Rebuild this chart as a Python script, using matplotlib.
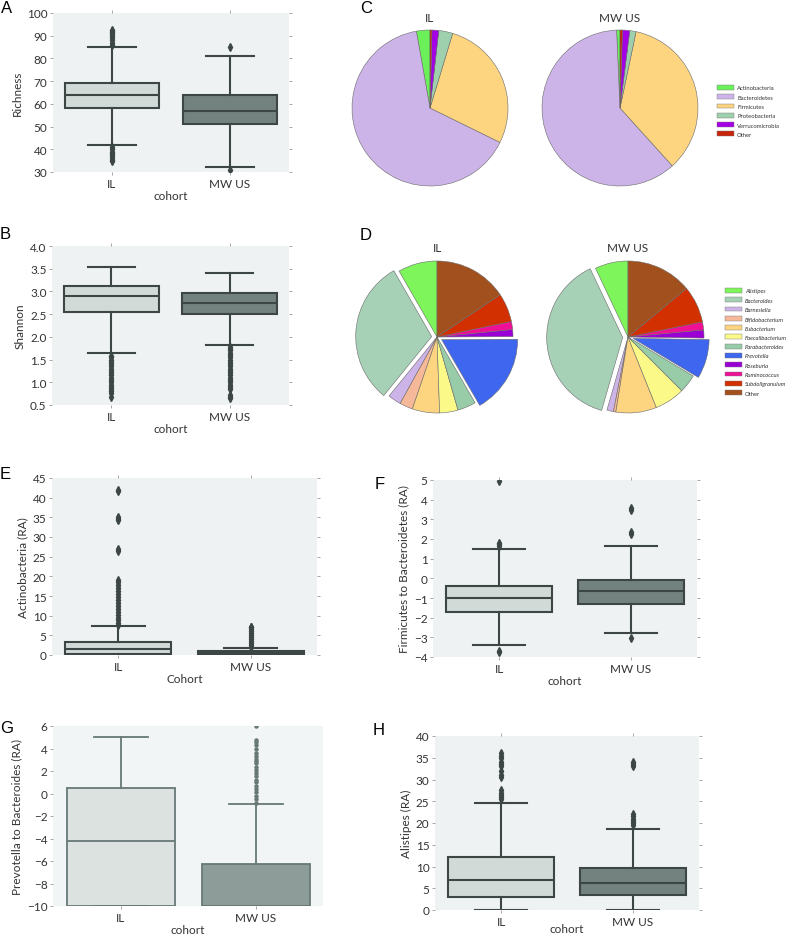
import matplotlib
matplotlib.use("Agg")
import matplotlib.pyplot as plt
from matplotlib.patches import Patch

plt.rcParams['font.family'] = ['Lato', 'DejaVu Sans']

W, H = 791, 937

cohorts = ['IL', 'MW US']

# box summaries: whislo, q1, median, q3, whishi
richness_il = [42, 58, 64, 69, 85]
richness_mw = [32, 51, 57, 64, 81]
richness_il_out = [86, 87, 88, 89, 90, 90.5, 91, 91.5, 92, 92.5, 41, 40, 39, 38.5, 38, 37, 36, 35.5, 35]
richness_mw_out = [85, 31]

shannon_il = [1.64, 2.54, 2.91, 3.13, 3.54]
shannon_mw = [1.82, 2.50, 2.75, 2.97, 3.41]
shannon_il_out = [1.58, 1.55, 1.5, 1.45, 1.4, 1.35, 1.3, 1.25, 1.2, 1.15, 1.1, 1.05, 1.0, 0.95,
                  0.9, 0.86, 0.8, 0.77, 0.67]
shannon_mw_out = [1.78, 1.74, 1.7, 1.65, 1.6, 1.55, 1.5, 1.45, 1.4, 1.35, 1.3, 1.25, 1.2, 1.15,
                  1.1, 1.05, 1.0, 0.95, 0.9, 0.86, 0.72, 0.68, 0.65]

actino_il = [0.0, 0.35, 1.5, 3.3, 7.5]
actino_mw = [0.0, 0.1, 0.4, 0.9, 1.9]
actino_il_out = [7.7, 8.2, 8.8, 9.5, 10.2, 11, 11.8, 12.5, 13.2, 14, 14.8, 15.5, 16.2, 17, 17.8,
                 18.5, 19, 26.5, 27, 34.2, 34.7, 35, 41.7, 42]
actino_mw_out = [2.0, 2.5, 3.0, 3.5, 4.0, 4.5, 5.0, 5.5, 6.0, 6.5, 7.0, 7.2]

fb_il = [-3.4, -1.7, -1.0, -0.38, 1.5]
fb_mw = [-2.8, -1.28, -0.65, -0.08, 1.62]
fb_il_out = [1.65, 1.75, 1.8, 4.95, -3.7, -3.75]
fb_mw_out = [2.25, 2.35, 3.5, 3.6, -3.05]

pb_il = [-10, -10, -4.2, 0.5, 5.0]
pb_mw = [-10, -10, -10, -6.3, -0.9]
pb_il_out = []
pb_mw_out = [-0.8, -0.5, -0.2, 0.1, 0.4, 0.7, 1.0, 1.2, 1.6, 1.8, 2.1, 2.4, 2.7, 2.9, 3.1, 3.3,
             3.6, 4.0, 4.3, 4.6, 4.8, 6.0]

alist_il = [0.1, 3.1, 7.0, 12.2, 24.7]
alist_mw = [0.1, 3.4, 6.3, 9.7, 18.6]
alist_il_out = [25.5, 26, 26.5, 27, 27.5, 30.5, 31, 32, 33, 33.5, 34, 35, 35.5, 36]
alist_mw_out = [19.5, 20, 20.5, 21, 21.5, 22, 33, 33.5, 34]

phyla = ['Actinobacteria', 'Bacteroidetes', 'Firmicutes', 'Proteobacteria',
         'Verrucomicrobia', 'Other']
phyla_il = [2.8, 65.0, 27.6, 2.9, 1.4, 0.4]
phyla_mw = [0.7, 61.0, 35.0, 1.3, 1.5, 0.5]
phyla_colors = ['#6cf05a', '#cdb4e8', '#fdd480', '#9fd0ae', '#a400e6', '#c8240a']

genera = ['Alistipes', 'Bacteroides', 'Barnesiella', 'Bifidobacterium', 'Eubacterium',
          'Faecalibacterium', 'Parabacteroides', 'Prevotella', 'Roseburia', 'Ruminococcus',
          'Subdoligranulum', 'Other']
genera_il = [8.3, 30.8, 2.8, 2.8, 5.8, 3.9, 3.9, 16.7, 1.5, 1.7, 6.1, 15.6]
genera_mw = [7.0, 38.3, 1.4, 0.5, 8.6, 6.4, 3.9, 8.3, 1.7, 1.7, 7.8, 13.9]
genera_colors = ['#7ef55a', '#a6d1b6', '#cdb4e8', '#f5b898', '#fdd480', '#fbfa88', '#98cca8',
                 '#3e66ee', '#9a00d6', '#ee1196', '#d23000', '#a2501e']
explode_genera = [0, 0.07, 0, 0, 0, 0, 0, 0.07, 0, 0, 0, 0]

fig = plt.figure(figsize=(W / 100, H / 100), dpi=100)


def add_ax(x0, y0, x1, y1):
    return fig.add_axes([x0 / W, 1 - y1 / H, (x1 - x0) / W, (y1 - y0) / H])


def make_stats(vals, out):
    return dict(whislo=vals[0], q1=vals[1], med=vals[2], q3=vals[3], whishi=vals[4], fliers=out)


def box_panel(rect, il, mw, il_out, mw_out, ylim, yticks, ylabel, xlabel,
              fills=('#d2dad8', '#74827f'), edge='#3c4645', bg='#eef2f2',
              marker='d', msize=4, lw=1.5, frame_ticks=True, xpad=1):
    ax = add_ax(*rect)
    stats = [make_stats(il, il_out), make_stats(mw, mw_out)]
    line = dict(color=edge, linewidth=lw)
    bp = ax.bxp(stats, positions=[0, 1], widths=0.8, patch_artist=True,
                boxprops=dict(edgecolor=edge, linewidth=lw),
                medianprops=line, whiskerprops=line, capprops=line,
                flierprops=dict(marker=marker, markerfacecolor=edge, markeredgecolor=edge,
                                markersize=msize, linestyle='none'))
    for patch, c in zip(bp['boxes'], fills):
        patch.set_facecolor(c)
    ax.set_facecolor(bg)
    for s in ax.spines.values():
        s.set_visible(False)
    ax.set_xlim(-0.5, 1.5)
    ax.set_ylim(*ylim)
    ax.set_yticks(yticks)
    ax.set_xticks([0, 1])
    ax.set_xticklabels(cohorts)
    ax.tick_params(labelsize=8.5, labelcolor='#333333', length=2, width=0.6, color='#999999',
                   top=frame_ticks, right=frame_ticks, pad=2)
    ax.set_ylabel(ylabel, fontsize=8.5, color='#333333', labelpad=3)
    ax.set_xlabel(xlabel, fontsize=8.5, color='#333333', labelpad=xpad)
    return ax


def pie_panel(cx, cy, r, vals, colors, title, explode=None):
    half = 1.1 * r
    ax = add_ax(cx - half, cy - half, cx + half, cy + half)
    ax.pie(vals, colors=colors, startangle=90, counterclock=True, explode=explode,
           wedgeprops=dict(edgecolor='#6a6a6a', linewidth=0.4))
    ax.set_xlim(-1.1, 1.1)
    ax.set_ylim(-1.1, 1.1)
    ax.set_aspect('equal')
    ax.axis('off')
    fig.text(cx / W, 1 - (cy - r - 13) / H, title, ha='center', va='center',
             fontsize=8.5, color='#333333')


def letter(x, y, s):
    fig.text(x / W, 1 - y / H, s, fontsize=12, va='top', ha='left',
             family='Liberation Sans', color='black')


def small_legend(colors, labels, x, y, italic):
    leg = fig.legend([Patch(facecolor=c, edgecolor='#777777', linewidth=0.3) for c in colors],
                     labels, loc='upper left', bbox_to_anchor=(x / W, 1 - y / H), frameon=False,
                     fontsize=4.2, handlelength=2.9, handleheight=0.9, handletextpad=0.55,
                     labelspacing=0.66, borderpad=0, borderaxespad=0)
    for t in leg.get_texts():
        t.set_color('#333333')
    if italic:
        for t in leg.get_texts()[:-1]:
            t.set_fontstyle('italic')
    return leg


# A / B
box_panel((53, 14, 289, 173), richness_il, richness_mw, richness_il_out, richness_mw_out,
          (30, 100), range(30, 101, 10), 'Richness', 'cohort')
ax_b = box_panel((52, 247, 289, 406), shannon_il, shannon_mw, shannon_il_out, shannon_mw_out,
                 (0.5, 4.0), [0.5, 1.0, 1.5, 2.0, 2.5, 3.0, 3.5, 4.0], 'Shannon', 'cohort')
ax_b.set_yticklabels(['0.5', '1.0', '1.5', '2.0', '2.5', '3.0', '3.5', '4.0'])

# C / D pies
pie_panel(430, 109, 78, phyla_il, phyla_colors, 'IL')
pie_panel(620, 109, 78, phyla_mw, phyla_colors, 'MW US')
pie_panel(437, 338, 76, genera_il, genera_colors, 'IL', explode_genera)
pie_panel(628, 338, 76, genera_mw, genera_colors, 'MW US', explode_genera)

small_legend(phyla_colors, phyla, 717, 86, False)
small_legend(genera_colors, genera, 725, 289, True)

# E / F
box_panel((52, 479, 317, 656), actino_il, actino_mw, actino_il_out, actino_mw_out,
          (0, 45), range(0, 46, 5), 'Actinobacteria (RA)', 'Cohort')
box_panel((433, 481, 697, 658), fb_il, fb_mw, fb_il_out, fb_mw_out,
          (-4, 5), range(-4, 6), 'Firmicutes to Bacteroidetes (RA)', 'cohort')

# G / H
box_panel((53, 727, 323, 907), pb_il, pb_mw, pb_il_out, pb_mw_out,
          (-10, 6), range(-10, 7, 2), 'Prevotella to Bacteroides (RA)', 'cohort',
          fills=('#dbe2e0', '#8d9c99'), edge='#677876', bg='#f1f5f6',
          marker='o', msize=2.2, lw=1.3, frame_ticks=False)
box_panel((435, 737, 699, 911), alist_il, alist_mw, alist_il_out, alist_mw_out,
          (0, 40), range(0, 41, 5), 'Alistipes (RA)', 'cohort', xpad=-2.5)

for x, y, s in [(1, 1, 'A'), (0, 227, 'B'), (360, 1, 'C'), (360, 228, 'D'),
                (0, 467, 'E'), (375, 477, 'F'), (0, 721, 'G'), (373, 723, 'H')]:
    letter(x, y, s)

fig.savefig('out.png', dpi=100)
